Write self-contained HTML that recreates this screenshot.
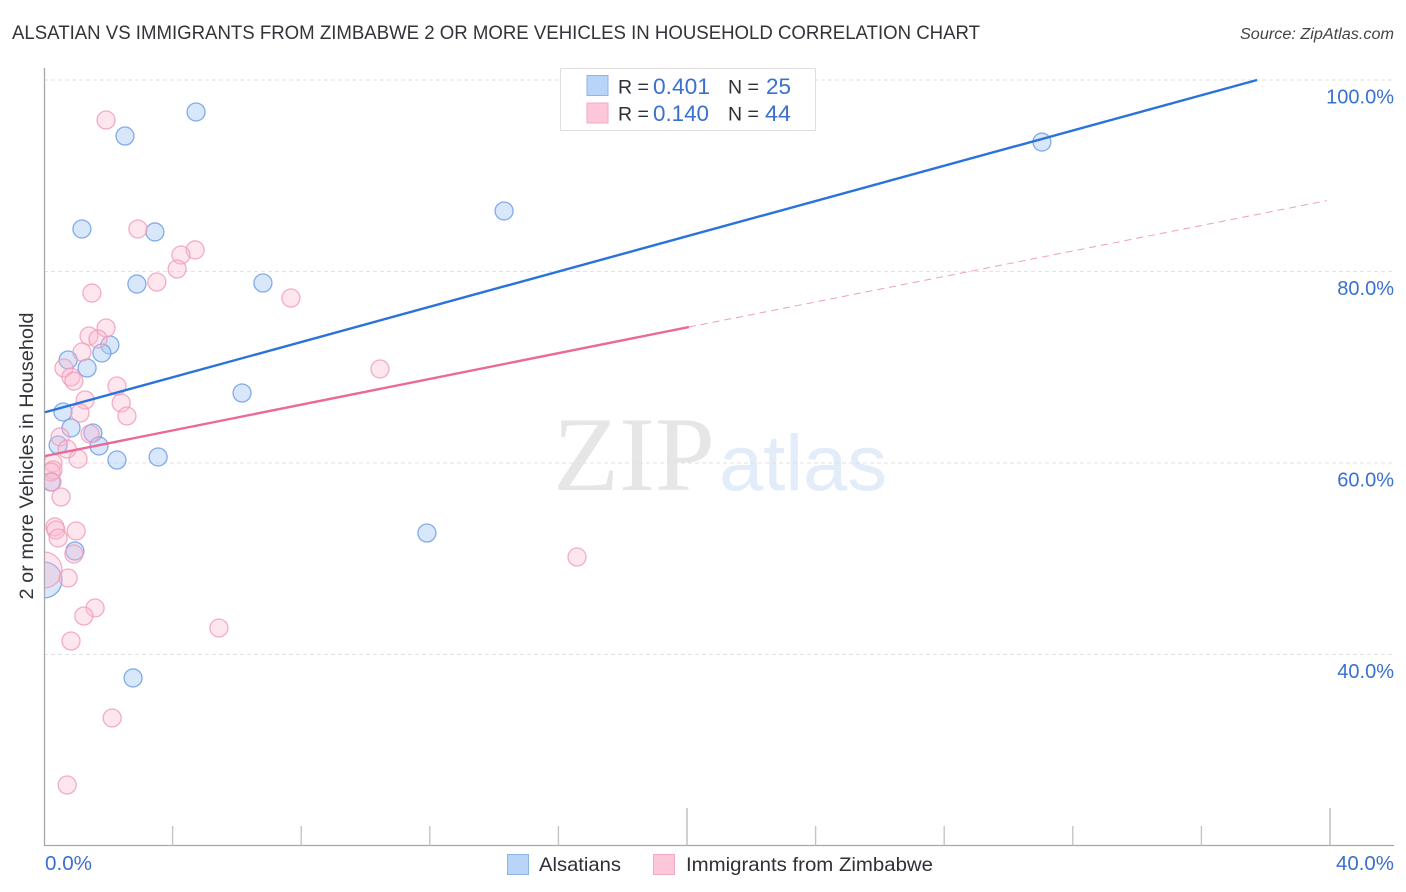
<!DOCTYPE html>
<html lang="en">
<head>
<meta charset="utf-8">
<title>Alsatian vs Immigrants from Zimbabwe correlation chart</title>
<style>
html,body{margin:0;padding:0;background:#fff;width:1406px;height:892px;overflow:hidden}
svg{display:block;font-family:"Liberation Sans",sans-serif}
</style>
</head>
<body>
<svg id="chart" width="1406" height="892" viewBox="0 0 1406 892">
  <defs>
    <clipPath id="plot-clip"><rect x="45" y="68" width="1349" height="777"/></clipPath>
  </defs>
  <text x="12" y="39" font-size="19.5" fill="#33333a" textLength="968" lengthAdjust="spacingAndGlyphs">ALSATIAN VS IMMIGRANTS FROM ZIMBABWE 2 OR MORE VEHICLES IN HOUSEHOLD CORRELATION CHART</text>
  <text x="1394" y="39" font-size="15.5" font-style="italic" fill="#444" text-anchor="end" textLength="154" lengthAdjust="spacingAndGlyphs">Source: ZipAtlas.com</text>
  <g>
    <text x="553" y="490" font-family="'Liberation Serif',serif" font-size="106" fill="#e6e6e7" textLength="162" lengthAdjust="spacingAndGlyphs">ZIP</text>
    <text x="719" y="490" font-size="79" fill="#e3ecf9" textLength="168" lengthAdjust="spacingAndGlyphs">atlas</text>
  </g>
  <g id="grid"></g>
  <g id="axes"></g>
  <g id="points" clip-path="url(#plot-clip)"></g>
  <g id="trends"></g>
  <text transform="translate(33,456) rotate(-90)" font-size="19" fill="#33333a" text-anchor="middle" textLength="287" lengthAdjust="spacingAndGlyphs">2 or more Vehicles in Household</text>
  <g>
    <rect x="560.5" y="68.5" width="255" height="62" fill="#fff" stroke="#dfdfdf"/>
    <rect x="587" y="75.5" width="21" height="20" fill="#b9d4f9" stroke="#8fb5e8"/>
    <rect x="587" y="103" width="21" height="20" fill="#fdc7d9" stroke="#f3a9c2"/>
    <text x="618" y="93.5" font-size="19.5" fill="#2f2f37">R =</text>
    <text x="653" y="94" font-size="22" fill="#3a70cf" textLength="57" lengthAdjust="spacingAndGlyphs">0.401</text>
    <text x="728" y="93.5" font-size="19.5" fill="#2f2f37">N =</text>
    <text x="766" y="94" font-size="22" fill="#3a70cf" textLength="25" lengthAdjust="spacingAndGlyphs">25</text>
    <text x="618" y="120.5" font-size="19.5" fill="#2f2f37">R =</text>
    <text x="653" y="121" font-size="22" fill="#3a70cf" textLength="56" lengthAdjust="spacingAndGlyphs">0.140</text>
    <text x="728" y="120.5" font-size="19.5" fill="#2f2f37">N =</text>
    <text x="765" y="121" font-size="22" fill="#3a70cf" textLength="26" lengthAdjust="spacingAndGlyphs">44</text>
  </g>
  <g>
    <rect x="507.5" y="854.5" width="21" height="20" fill="#b9d4f9" stroke="#8fb5e8"/>
    <text x="539" y="871" font-size="19.5" fill="#2f2f37" textLength="82" lengthAdjust="spacingAndGlyphs">Alsatians</text>
    <rect x="653.5" y="854.5" width="21" height="20" fill="#fdc7d9" stroke="#f3a9c2"/>
    <text x="686" y="871" font-size="19.5" fill="#2f2f37" textLength="247" lengthAdjust="spacingAndGlyphs">Immigrants from Zimbabwe</text>
  </g>
</svg>
<script>
const yTickValues = [100, 80, 60, 40];
const yTickLabels = ["100.0%", "80.0%", "60.0%", "40.0%"];
const xMinorTicks = [4, 8, 12, 16, 24, 28, 32, 36];
const xMajorTicks = [20, 40];
const xEndLabels = ["0.0%", "40.0%"];

const alsatianX = [4.73, 2.52, 31.04, 14.31, 1.18, 3.45, 2.89, 6.81, 2.05, 1.80, 0.75, 1.34, 6.16, 0.59, 0.84, 1.52, 0.44, 1.71, 2.27, 3.55, 0.22, 11.91, 0.96, 0, 2.77];
const alsatianY = [96.66, 94.15, 93.52, 86.32, 84.44, 84.13, 78.69, 78.80, 72.32, 71.49, 70.76, 69.92, 67.31, 65.33, 63.66, 63.13, 61.88, 61.78, 60.31, 60.63, 58.02, 52.69, 50.81, 47.78, 37.55];
const alsatianWeight = [1, 1, 1, 1, 1, 1, 1, 1, 1, 1, 1, 1, 1, 1, 1, 1, 1, 1, 1, 1, 1, 1, 1, 4, 1];

const zimbabweX = [1.93, 2.92, 4.70, 4.26, 4.14, 3.51, 1.49, 7.68, 1.93, 1.40, 1.68, 1.18, 0.62, 10.45, 0.84, 0.93, 2.27, 1.28, 2.40, 1.12, 2.58, 0.50, 1.43, 0.72, 1.06, 0.28, 0.28, 0.22, 0.25, 0.53, 0.34, 0.37, 1.00, 0.44, 0.93, 16.58, 0, 0.75, 1.59, 1.24, 5.44, 0.84, 2.12, 0.72];
const zimbabweY = [95.82, 84.44, 82.25, 81.72, 80.26, 78.90, 77.75, 77.23, 74.10, 73.26, 72.95, 71.59, 69.92, 69.82, 68.98, 68.56, 68.04, 66.58, 66.27, 65.22, 64.91, 62.72, 63.03, 61.46, 60.42, 60.00, 59.27, 59.06, 58.02, 56.45, 53.32, 53.00, 52.90, 52.17, 50.50, 50.18, 48.83, 47.99, 44.86, 44.02, 42.77, 41.41, 33.37, 26.37];
const zimbabweWeight = [1, 1, 1, 1, 1, 1, 1, 1, 1, 1, 1, 1, 1, 1, 1, 1, 1, 1, 1, 1, 1, 1, 1, 1, 1, 1, 1, 1, 1, 1, 1, 1, 1, 1, 1, 1, 4, 1, 1, 1, 1, 1, 1, 1];

const alsatianTrendX = [0, 37.73];
const alsatianTrendY = [65.3, 100];
const zimbabweSolidX = [0, 20.06];
const zimbabweSolidY = [60.73, 74.2];
const zimbabweDashX = [20.06, 39.9];
const zimbabweDashY = [74.2, 87.4];

const SVG_NS = "http://www.w3.org/2000/svg";
const xScale = v => 44 + v * 32.15;
const yScale = v => 80 + (100 - v) * 9.575;
const radiusScale = w => 9 * Math.sqrt(w);
const plotBottom = 845.5;
const plotRight = 1394;

function make(parent, tag, attrs) {
  const el = document.createElementNS(SVG_NS, tag);
  Object.keys(attrs).forEach(k => el.setAttribute(k, attrs[k]));
  parent.appendChild(el);
  return el;
}

const gridG = document.getElementById("grid");
const axesG = document.getElementById("axes");
const pointsG = document.getElementById("points");
const trendsG = document.getElementById("trends");

yTickValues.forEach((v, i) => {
  const line = make(gridG, "line", {x1: 44, x2: plotRight, y1: yScale(v), y2: yScale(v), stroke: "#e2e2e2", "stroke-width": 1, "stroke-dasharray": "4 3"});
  
  
  const label = make(axesG, "text", {x: 1394, y: yScale(v) + 23.5, "font-size": 20, fill: "#3a70cf", "text-anchor": "end"});
  
  
  label.textContent = yTickLabels[i];
});

const yAxis = make(axesG, "line", {x1: 44.5, x2: 44.5, y1: 68, y2: 846, stroke: "#a8a8a8", "stroke-width": 1.3});


const xAxis = make(axesG, "line", {x1: 44, x2: plotRight, y1: plotBottom, y2: plotBottom, stroke: "#a8a8a8", "stroke-width": 1.3});



xMinorTicks.forEach(v => {
  const tick = make(axesG, "line", {x1: xScale(v), x2: xScale(v), y1: 826, y2: plotBottom, stroke: "#c4c4c4", "stroke-width": 1.4});
  
  
});
xMajorTicks.forEach(v => {
  const tick = make(axesG, "line", {x1: xScale(v), x2: xScale(v), y1: 808, y2: plotBottom, stroke: "#bcbcbc", "stroke-width": 1.4});
  
  
});

const xLabelLeft = make(axesG, "text", {x: 45, y: 870, "font-size": 20, fill: "#3a70cf", textLength: 47, lengthAdjust: "spacingAndGlyphs"});


xLabelLeft.textContent = xEndLabels[0];
const xLabelRight = make(axesG, "text", {x: 1394, y: 870, "font-size": 20, fill: "#3a70cf", "text-anchor": "end", textLength: 58, lengthAdjust: "spacingAndGlyphs"});


xLabelRight.textContent = xEndLabels[1];

alsatianX.forEach((x, i) => {
  const dot = make(pointsG, "circle", {cx: xScale(x), cy: yScale(alsatianY[i]), r: radiusScale(alsatianWeight[i]), fill: "#a9c9f5", "fill-opacity": 0.45, stroke: "#6f9fe6", "stroke-opacity": 0.85, "stroke-width": 1.3});
  
  
});
zimbabweX.forEach((x, i) => {
  const dot = make(pointsG, "circle", {cx: xScale(x), cy: yScale(zimbabweY[i]), r: radiusScale(zimbabweWeight[i]), fill: "#fbb9cf", "fill-opacity": 0.36, stroke: "#f09ab8", "stroke-opacity": 0.8, "stroke-width": 1.3});
  
  
});

const lineBlue = make(trendsG, "line", {x1: xScale(alsatianTrendX[0]) + 1, y1: yScale(alsatianTrendY[0]), x2: xScale(alsatianTrendX[1]), y2: yScale(alsatianTrendY[1]), stroke: "#2a73d8", "stroke-width": 2.4});


const linePink = make(trendsG, "line", {x1: xScale(zimbabweSolidX[0]) + 1, y1: yScale(zimbabweSolidY[0]), x2: xScale(zimbabweSolidX[1]), y2: yScale(zimbabweSolidY[1]), stroke: "#ea6a97", "stroke-width": 2.4});


const lineDash = make(trendsG, "line", {x1: xScale(zimbabweDashX[0]), y1: yScale(zimbabweDashY[0]), x2: xScale(zimbabweDashX[1]), y2: yScale(zimbabweDashY[1]), stroke: "#eca0ba", "stroke-width": 1, "stroke-dasharray": "7 5"});


</script>
</body>
</html>
